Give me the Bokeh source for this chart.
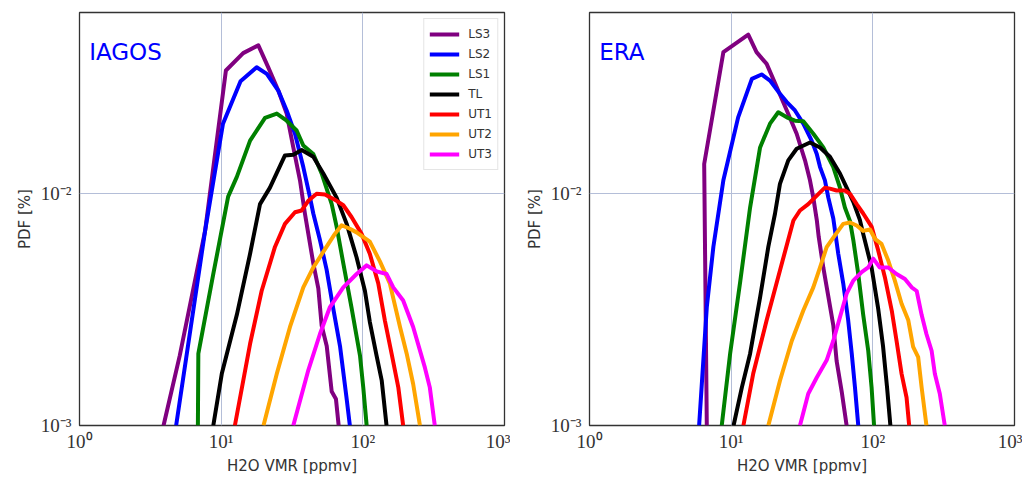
from bokeh.plotting import figure
from bokeh.layouts import row
from bokeh.models import FixedTicker, Label, Legend, LegendItem, Range1d
from bokeh.embed import file_html
from bokeh.resources import INLINE

names = ["LS3", "LS2", "LS1", "TL", "UT1", "UT2", "UT3"]
colors = ["#800080", "#0000ff", "#008000", "#000000", "#ff0000", "#ffa500", "#ff00ff"]

x_ticks = [1, 10, 100, 1000]
x_tick_labels = ["10\u2070", "10\u00b9", "10\u00b2", "10\u00b3"]
y_ticks = [0.001, 0.01]
y_tick_labels = ["10\u207b\u00b3", "10\u207b\u00b2"]

# ---------------- IAGOS ----------------
iagos_LS3_x = [3.92, 5.1, 7.7, 10.8, 14.3, 18.3, 21.5, 25.3, 29.0, 32.3, 36.0, 39.0, 44.7, 48.5, 51.2, 55.6, 60.3, 64.6, 67.5]
iagos_LS3_y = [0.001, 0.002, 0.0069, 0.0339, 0.0403, 0.0435, 0.035, 0.0278, 0.0221, 0.0158, 0.0114, 0.0082, 0.0050, 0.0039, 0.0027, 0.0022, 0.0014, 0.0013, 0.001]
iagos_LS2_x = [4.81, 7.7, 10.3, 13.7, 17.8, 21.0, 25.3, 29.0, 33.2, 38.0, 42.4, 44.7, 49.8, 55.5, 61.8, 69.0, 76.9, 81.0]
iagos_LS2_y = [0.001, 0.0069, 0.020, 0.0305, 0.035, 0.0328, 0.0278, 0.0228, 0.0181, 0.013, 0.0096, 0.0082, 0.0063, 0.0047, 0.0032, 0.0022, 0.0013, 0.001]
iagos_LS1_x = [6.85, 6.9, 8.8, 11.2, 12.9, 16.0, 20.4, 24.7, 29.0, 34.1, 38.0, 44.7, 51.2, 60.3, 65.3, 72.8, 83.4, 95.5, 100.7, 106.4]
iagos_LS1_y = [0.001, 0.00204, 0.0045, 0.0097, 0.0118, 0.0169, 0.0212, 0.0221, 0.0206, 0.0187, 0.0161, 0.0148, 0.0122, 0.009, 0.0072, 0.005, 0.0032, 0.002, 0.00146, 0.001]
iagos_TL_x = [8.8, 10.1, 12.9, 16.0, 18.8, 22.1, 28.2, 32.3, 37.0, 44.7, 52.6, 65.3, 76.9, 90.4, 103.5, 112, 125, 136, 147]
iagos_TL_y = [0.001, 0.00167, 0.003, 0.0055, 0.009, 0.0106, 0.0146, 0.0147, 0.0154, 0.0144, 0.0122, 0.0096, 0.0074, 0.0053, 0.0038, 0.0028, 0.002, 0.00156, 0.001]
iagos_UT1_x = [12.5, 16.0, 19.3, 24.0, 28.2, 33.2, 37.0, 41.2, 47.2, 54.0, 65.3, 72.8, 83.4, 98, 112, 128.5, 143, 159.6, 178, 192.6]
iagos_UT1_y = [0.001, 0.00225, 0.0038, 0.0059, 0.0074, 0.0083, 0.00845, 0.0093, 0.00997, 0.0099, 0.0093, 0.0089, 0.0079, 0.0067, 0.0055, 0.0041, 0.00284, 0.00204, 0.00146, 0.001]
iagos_UT2_x = [19.9, 24.7, 30.6, 38.0, 44.7, 55.5, 63.5, 70.8, 81, 90.4, 112, 132, 155, 183, 204, 226.6, 253]
iagos_UT2_y = [0.001, 0.00167, 0.00266, 0.00394, 0.0048, 0.0059, 0.0067, 0.0073, 0.00705, 0.0068, 0.0062, 0.0051, 0.0041, 0.00266, 0.00204, 0.00151, 0.001]
iagos_UT3_x = [32.3, 41.2, 49.8, 58.6, 72.8, 90.4, 106.4, 125, 147, 164, 192.6, 226.6, 274, 297, 322]
iagos_UT3_y = [0.001, 0.00173, 0.00248, 0.00324, 0.00394, 0.0045, 0.0049, 0.00462, 0.0045, 0.00394, 0.00346, 0.00266, 0.00178, 0.00146, 0.001]

# ---------------- ERA ----------------
era_LS3_x = [6.73, 6.45, 7.49, 8.81, 13.2, 15.1, 17.8, 21.0, 24.7, 29.0, 33.2, 36.0, 38.0, 40.2, 41.5, 44.7, 48.5, 52.6, 55.5, 60.3, 65.3]
era_LS3_y = [0.001, 0.0134, 0.0228, 0.0407, 0.0484, 0.0407, 0.0362, 0.0287, 0.0228, 0.0181, 0.0139, 0.0114, 0.0096, 0.0077, 0.0065, 0.0048, 0.0036, 0.0027, 0.0019, 0.0014, 0.001]
era_LS2_x = [5.94, 6.73, 7.49, 8.81, 11.2, 14.0, 16.4, 18.8, 22.1, 24.7, 28.2, 32.3, 37.0, 40.2, 42.4, 45.9, 48.5, 52.6, 57.0, 61.8, 67.0, 71.0, 74.8, 78.9]
era_LS2_y = [0.001, 0.00324, 0.0059, 0.0114, 0.0213, 0.0312, 0.0326, 0.0307, 0.0269, 0.0248, 0.0228, 0.020, 0.0169, 0.0148, 0.013, 0.0114, 0.0096, 0.0078, 0.0055, 0.0041, 0.00284, 0.00204, 0.00146, 0.001]
era_LS1_x = [8.58, 9.83, 11.6, 13.6, 16.0, 18.8, 21.5, 24.7, 28.2, 32.3, 38.0, 44.7, 52.6, 58.6, 63.5, 69.0, 72.8, 78.9, 85.5, 92.8, 98, 102]
era_LS1_y = [0.001, 0.00204, 0.0042, 0.0087, 0.0158, 0.020, 0.0224, 0.0213, 0.0206, 0.0205, 0.0181, 0.0158, 0.013, 0.0106, 0.0087, 0.0076, 0.0063, 0.0045, 0.003, 0.0021, 0.00146, 0.001]
era_TL_x = [10.4, 11.9, 13.6, 16.0, 18.3, 20.4, 22.1, 25.3, 29.0, 36.0, 42.4, 49.8, 58.6, 65.3, 72.8, 81, 85.5, 98, 109, 118, 126, 133]
era_TL_y = [0.001, 0.00146, 0.00204, 0.00357, 0.0059, 0.0082, 0.011, 0.0139, 0.0156, 0.0166, 0.0158, 0.0144, 0.0122, 0.0106, 0.0092, 0.0077, 0.0067, 0.0048, 0.0032, 0.0022, 0.00146, 0.001]
era_UT1_x = [12.2, 14.3, 17.8, 22.1, 27.5, 30.6, 35.0, 40.2, 45.9, 49.8, 55.5, 63.5, 69.0, 76.9, 85.5, 98, 109, 121.6, 136, 147, 159.6, 173, 180.5]
era_UT1_y = [0.001, 0.00167, 0.00284, 0.00466, 0.00765, 0.00845, 0.009, 0.0098, 0.0106, 0.0105, 0.0103, 0.0103, 0.00997, 0.009, 0.0082, 0.0072, 0.0057, 0.00436, 0.00313, 0.00232, 0.00167, 0.00132, 0.001]
era_UT2_x = [18.3, 22.1, 26.8, 32.3, 38.0, 42.4, 47.2, 54.0, 61.8, 69.0, 76.9, 85.5, 95.5, 103.5, 115, 128.5, 143, 159.6, 178, 192.6, 209, 221, 239]
era_UT2_y = [0.001, 0.00156, 0.00232, 0.00313, 0.00394, 0.0048, 0.00587, 0.0066, 0.0074, 0.0075, 0.00728, 0.0069, 0.007, 0.00638, 0.00607, 0.00514, 0.00421, 0.00335, 0.00284, 0.00218, 0.00197, 0.00146, 0.001]
era_UT3_x = [30.6, 35.0, 40.2, 47.2, 52.6, 58.6, 65.3, 72.8, 83.4, 92.8, 100.7, 112, 128.5, 147, 168.5, 188, 204, 221, 239, 260, 274, 297, 322]
era_UT3_y = [0.001, 0.00137, 0.00161, 0.00191, 0.00232, 0.00293, 0.0037, 0.00421, 0.00458, 0.0048, 0.00524, 0.0048, 0.0048, 0.0045, 0.00428, 0.00394, 0.0038, 0.003, 0.00248, 0.0021, 0.00167, 0.00137, 0.001]

iagos = [(iagos_LS3_x, iagos_LS3_y), (iagos_LS2_x, iagos_LS2_y), (iagos_LS1_x, iagos_LS1_y),
         (iagos_TL_x, iagos_TL_y), (iagos_UT1_x, iagos_UT1_y), (iagos_UT2_x, iagos_UT2_y),
         (iagos_UT3_x, iagos_UT3_y)]
era = [(era_LS3_x, era_LS3_y), (era_LS2_x, era_LS2_y), (era_LS1_x, era_LS1_y),
       (era_TL_x, era_TL_y), (era_UT1_x, era_UT1_y), (era_UT2_x, era_UT2_y),
       (era_UT3_x, era_UT3_y)]

SERIF = "Liberation Serif"
SANS = "DejaVu Sans"
GRID = "#b4bed8"
DARK = "#333333"


def make_panel(title, series, with_legend, width, border_right):
    p = figure(width=width, height=477, x_axis_type="log", y_axis_type="log",
               x_range=Range1d(1, 1000), y_range=Range1d(1e-3, 0.0603),
               output_backend="svg", toolbar_location=None,
               min_border_left=79, min_border_right=border_right,
               min_border_top=12, min_border_bottom=40)
    p.background_fill_color = "white"
    p.border_fill_color = "white"
    p.outline_line_color = DARK
    p.outline_line_width = 1.3

    p.xaxis.ticker = FixedTicker(ticks=x_ticks)
    p.yaxis.ticker = FixedTicker(ticks=y_ticks)
    p.xgrid.ticker = FixedTicker(ticks=x_ticks)
    p.ygrid.ticker = FixedTicker(ticks=y_ticks)
    p.xaxis.major_label_overrides = dict(zip(x_ticks, x_tick_labels))
    p.yaxis.major_label_overrides = dict(zip(y_ticks, y_tick_labels))
    for ax in (p.xaxis, p.yaxis):
        ax.axis_line_color = None
        ax.major_tick_line_color = None
        ax.minor_tick_line_color = None
        ax.major_tick_out = 0
        ax.major_tick_in = 0
        ax.minor_tick_out = 0
        ax.minor_tick_in = 0
        ax.major_label_text_font = SERIF
        ax.major_label_text_font_size = "19px"
        ax.major_label_text_color = DARK
        ax.axis_label_text_font = SANS
        ax.axis_label_text_font_size = "15px"
        ax.axis_label_text_font_style = "normal"
        ax.axis_label_text_color = DARK
    p.xaxis.axis_label = "H2O VMR [ppmv]"
    p.yaxis.axis_label = "PDF [%]"
    p.xaxis.major_label_standoff = 5
    p.xaxis.axis_label_standoff = 2
    p.yaxis.major_label_standoff = 8
    p.yaxis.axis_label_standoff = 4
    p.grid.grid_line_color = GRID
    p.grid.grid_line_width = 1

    renderers = []
    for (xs, ys), c in zip(series, colors):
        r = p.line(xs, ys, line_color=c, line_width=4, line_join="round")
        renderers.append(r)

    p.add_layout(Label(x=1.17, y=0.0406, text=title, text_font=SANS,
                       text_font_size="23px", text_color="#0000ff",
                       text_baseline="alphabetic", text_align="left"))

    if with_legend:
        leg = Legend(items=[LegendItem(label=n, renderers=[r]) for n, r in zip(names, renderers)],
                     location="top_right")
        leg.margin = 6
        leg.padding = 5
        leg.spacing = 0
        leg.glyph_width = 30
        leg.glyph_height = 20
        leg.label_height = 20
        leg.label_standoff = 9
        leg.label_text_font = SANS
        leg.label_text_font_size = "12px"
        leg.label_text_color = DARK
        leg.border_line_color = "#cccccc"
        leg.border_line_width = 1
        leg.background_fill_color = "white"
        leg.background_fill_alpha = 1
        p.add_layout(leg)
    return p


p1 = make_panel("IAGOS", iagos, True, 510, 6)
p2 = make_panel("ERA", era, False, 512, 8)
layout = row(p1, p2)

open("out.html", "w").write(file_html(layout, INLINE))
